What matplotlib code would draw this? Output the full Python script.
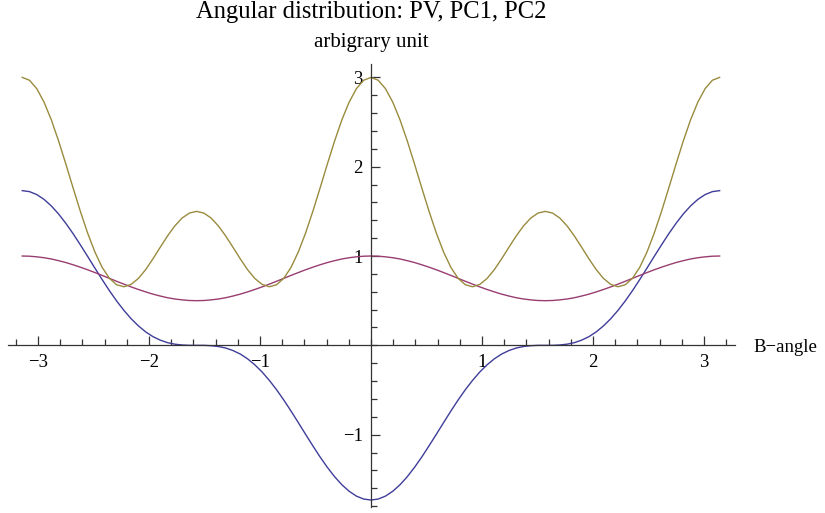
import matplotlib
matplotlib.use("Agg")
import matplotlib.pyplot as plt
import numpy as np
from matplotlib.ticker import MultipleLocator, FixedLocator

# sample angles, -pi .. pi in steps of pi/48
angle = np.linspace(-np.pi, np.pi, 97)

# values
pv = [1.732, 1.721, 1.688, 1.634, 1.561, 1.471, 1.366, 1.250, 1.125, 0.996, 0.865, 0.736,
      0.612, 0.496, 0.391, 0.297, 0.217, 0.150, 0.097, 0.058, 0.030, 0.013, 0.004, 0.000,
      0.000, 0.000, -0.004, -0.013, -0.030, -0.058, -0.097, -0.150, -0.217, -0.297, -0.391, -0.496,
      -0.612, -0.736, -0.865, -0.996, -1.125, -1.250, -1.366, -1.471, -1.561, -1.634, -1.688, -1.721,
      -1.732,
      -1.721, -1.688, -1.634, -1.561, -1.471, -1.366, -1.250, -1.125, -0.996, -0.865, -0.736, -0.612,
      -0.496, -0.391, -0.297, -0.217, -0.150, -0.097, -0.058, -0.030, -0.013, -0.004, 0.000, 0.000,
      0.000, 0.004, 0.013, 0.030, 0.058, 0.097, 0.150, 0.217, 0.297, 0.391, 0.496, 0.612,
      0.736, 0.865, 0.996, 1.125, 1.250, 1.366, 1.471, 1.561, 1.634, 1.688, 1.721, 1.732]
pc1 = [1.000, 0.998, 0.991, 0.981, 0.967, 0.948, 0.927, 0.902, 0.875, 0.846, 0.815, 0.783,
       0.750, 0.717, 0.685, 0.654, 0.625, 0.598, 0.573, 0.552, 0.533, 0.519, 0.509, 0.502,
       0.500, 0.502, 0.509, 0.519, 0.533, 0.552, 0.573, 0.598, 0.625, 0.654, 0.685, 0.717,
       0.750, 0.783, 0.815, 0.846, 0.875, 0.902, 0.927, 0.948, 0.967, 0.981, 0.991, 0.998,
       1.000,
       0.998, 0.991, 0.981, 0.967, 0.948, 0.927, 0.902, 0.875, 0.846, 0.815, 0.783, 0.750,
       0.717, 0.685, 0.654, 0.625, 0.598, 0.573, 0.552, 0.533, 0.519, 0.509, 0.502, 0.500,
       0.502, 0.509, 0.519, 0.533, 0.552, 0.573, 0.598, 0.625, 0.654, 0.685, 0.717, 0.750,
       0.783, 0.815, 0.846, 0.875, 0.902, 0.927, 0.948, 0.967, 0.981, 0.991, 0.998, 1.000]
pc2 = [3.000, 2.968, 2.874, 2.723, 2.525, 2.289, 2.030, 1.762, 1.500, 1.257, 1.045, 0.873,
       0.750, 0.678, 0.656, 0.683, 0.750, 0.849, 0.970, 1.099, 1.225, 1.337, 1.425, 1.481,
       1.500, 1.481, 1.425, 1.337, 1.225, 1.099, 0.970, 0.849, 0.750, 0.683, 0.656, 0.678,
       0.750, 0.873, 1.045, 1.257, 1.500, 1.762, 2.030, 2.289, 2.525, 2.723, 2.874, 2.968,
       3.000,
       2.968, 2.874, 2.723, 2.525, 2.289, 2.030, 1.762, 1.500, 1.257, 1.045, 0.873, 0.750,
       0.678, 0.656, 0.683, 0.750, 0.849, 0.970, 1.099, 1.225, 1.337, 1.425, 1.481, 1.500,
       1.481, 1.425, 1.337, 1.225, 1.099, 0.970, 0.849, 0.750, 0.683, 0.656, 0.678, 0.750,
       0.873, 1.045, 1.257, 1.500, 1.762, 2.030, 2.289, 2.525, 2.723, 2.874, 2.968, 3.000]

xticks = [-3, -2, -1, 1, 2, 3]
yticks = [-1, 1, 2, 3]

plt.rcParams['font.family'] = ['Liberation Serif', 'DejaVu Serif']

W, H = 825, 513
fig = plt.figure(figsize=(W / 100, H / 100), dpi=100)
ax = fig.add_axes([8 / W, 1 - 507 / H, (735 - 8) / W, (507 - 64) / H])

ax.plot(angle, pv, color='#3f3d99', lw=1.0)
ax.plot(angle, pc1, color='#993d71', lw=1.0)
ax.plot(angle, pc2, color='#998b3d', lw=1.0)

ax.set_xlim(-3.27, 3.28)
ax.set_ylim(-1.81, 3.15)

for s in ['top', 'right']:
    ax.spines[s].set_visible(False)
ax.spines['left'].set_position(('data', 0))
ax.spines['bottom'].set_position(('data', 0))
for s in ['left', 'bottom']:
    ax.spines[s].set_color('#333333')
    ax.spines[s].set_linewidth(0.9)

ax.xaxis.set_major_locator(FixedLocator(xticks))
ax.yaxis.set_major_locator(FixedLocator(yticks))
ax.set_xticklabels([str(t).replace('-', '\u2212') for t in xticks])
ax.set_yticklabels([str(t).replace('-', '\u2212') for t in yticks])
ax.xaxis.set_minor_locator(MultipleLocator(0.2))
ax.yaxis.set_minor_locator(MultipleLocator(0.2))
ax.tick_params(which='both', direction='in', color='#333333', width=0.9,
               labelsize=13.5)
ax.tick_params(which='major', length=6.5)
ax.tick_params(which='minor', length=4.1)
ax.tick_params(axis='x', pad=6)
ax.tick_params(axis='y', pad=6)

fig.text(371 / W, 1 - 18 / H, 'Angular distribution: PV, PC1, PC2',
         ha='center', va='baseline', fontsize=17.7)
fig.text(371 / W, 1 - 46.7 / H, 'arbigrary unit',
         ha='center', va='baseline', fontsize=15)
fig.text(753 / W, 1 - 351.7 / H, 'B\u2212angle',
         ha='left', va='baseline', fontsize=13.5)

fig.savefig('out.png', dpi=100)
